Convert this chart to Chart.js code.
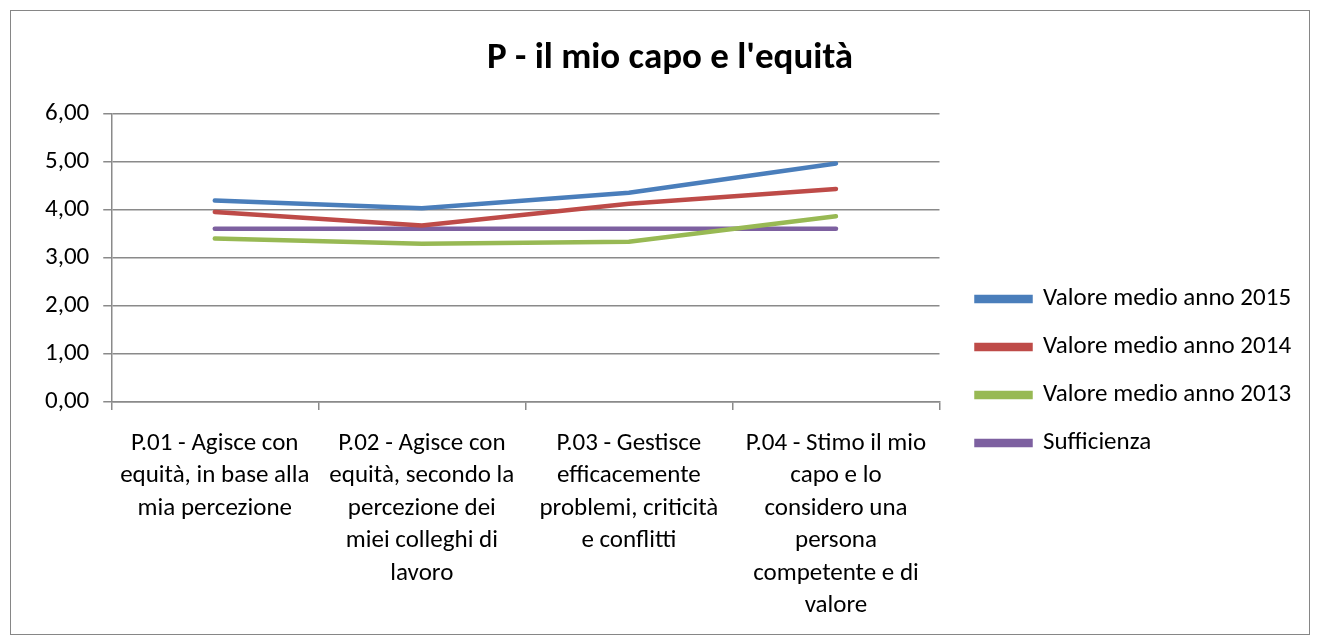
<!DOCTYPE html>
<html>
<head>
<meta charset="utf-8">
<script src="https://cdn.jsdelivr.net/npm/chart.js@4"></script>
<style>
  body { margin: 0; background: #fff; }
  #box { position: absolute; left: 10px; top: 10px; width: 1298px; height: 623px; border: 1px solid #868686; }
</style>
</head>
<body>
<div id="box"><canvas id="chart"></canvas></div>
<script>
const categories = [
    ['P.01 - Agisce con', 'equità, in base alla', 'mia percezione'],
    ['P.02 - Agisce con', 'equità, secondo la', 'percezione dei', 'miei colleghi di', 'lavoro'],
    ['P.03 - Gestisce', 'efficacemente', 'problemi, criticità', 'e conflitti'],
    ['P.04 - Stimo il mio', 'capo e lo', 'considero una', 'persona', 'competente e di', 'valore']
];
const values2015 = [4.19, 4.03, 4.35, 4.96];
const values2014 = [3.95, 3.67, 4.12, 4.43];
const values2013 = [3.40, 3.29, 3.33, 3.86];
const sufficienza = [3.6, 3.6, 3.6, 3.6];
const yTicks = [0, 1, 2, 3, 4, 5, 6];

const FONT = 'Carlito, Lato, sans-serif';
const gridColor = '#8a8a8a';

function lineSet(label, data, color) {
    return {
        label: label,
        data: data,
        borderColor: color,
        backgroundColor: color,
        borderWidth: 4.5,
        borderCapStyle: 'round',
        pointRadius: 0,
        tension: 0
    };
}

// widen the legend and push it away from the plot, like the original
const legendShift = {
    id: 'legendShift',
    beforeLayout(chart) {
        const lg = chart.legend;
        if (lg && !lg._wide) {
            const fit = lg.fit;
            lg.fit = function () { fit.call(this); this.width += 50; };
            lg._wide = true;
        }
    },
    afterLayout(chart) {
        const lg = chart.legend;
        lg.left += 14; lg.right += 14;
        lg.top += 46; lg.bottom += 46;
    }
};

new Chart(document.getElementById('chart'), {
    type: 'line',
    data: {
        labels: categories,
        datasets: [
            lineSet('Valore medio anno 2015', values2015, '#4a7ebb'),
            lineSet('Valore medio anno 2014', values2014, '#be4b48'),
            lineSet('Valore medio anno 2013', values2013, '#98b954'),
            lineSet('Sufficienza', sufficienza, '#7d60a0')
        ]
    },
    plugins: [legendShift],
    options: {
        responsive: true,
        maintainAspectRatio: false,
        animation: false,
        layout: { padding: { left: 20, right: 0, top: 0, bottom: -5 } },
        plugins: {
            title: {
                display: true,
                text: "P - il mio capo e l'equità",
                color: '#000',
                font: { family: FONT, size: 37, weight: 'bold' },
                padding: { top: 26, bottom: 32 }
            },
            legend: {
                position: 'right',
                labels: {
                    color: '#000',
                    font: { family: FONT, size: 25 },
                    boxWidth: 54,
                    boxHeight: 4,
                    padding: 23
                }
            },
            tooltip: { enabled: false }
        },
        scales: {
            x: {
                offset: true,
                grid: {
                    offset: true,
                    drawOnChartArea: false,
                    drawTicks: true,
                    tickLength: 8,
                    color: gridColor,
                    lineWidth: 1.5
                },
                border: { color: gridColor, width: 1.5 },
                ticks: {
                    color: '#000',
                    font: { family: FONT, size: 25, lineHeight: 1.3 },
                    padding: 17,
                    maxRotation: 0,
                    autoSkip: false
                }
            },
            y: {
                min: 0,
                max: 6,
                afterBuildTicks: axis => { axis.ticks = yTicks.map(v => ({ value: v })); },
                grid: { color: gridColor, lineWidth: 1.5, tickLength: 8 },
                border: { color: gridColor, width: 1.5 },
                ticks: {
                    color: '#000',
                    font: { family: FONT, size: 25 },
                    padding: 14,
                    callback: v => v.toFixed(2).replace('.', ',')
                }
            }
        }
    }
});
</script>
</body>
</html>
